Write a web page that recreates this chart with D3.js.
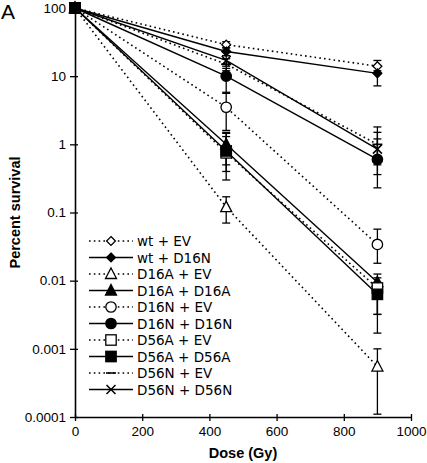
<!DOCTYPE html>
<html><head><meta charset="utf-8">
<script src="https://cdn.jsdelivr.net/npm/d3@7"></script>
<style>body{margin:0;background:#fff}svg{display:block}</style>
</head><body>
<script>
// ---- data ----
const doses = [0, 450, 900];
const seriesNames = ["wt + EV","wt + D16N","D16A + EV","D16A + D16A","D16N + EV","D16N + D16N","D56A + EV","D56A + D56A","D56N + EV","D56N + D56N"];
const seriesMarkers = ["diamond","diamond","triangle","triangle","circle","circle","square","square","dash","cross"];
const seriesFilled = [false,true,false,true,false,true,false,true,false,false];
const seriesDotted = [true,false,true,false,true,false,true,false,true,false];
const wtEV      = [100, 29, 14];
const wtD16N    = [100, 23, 11];
const d16aEV    = [100, 0.12, 0.00055];
const d16aD16A  = [100, 1.0, 0.0095];
const d16nEV    = [100, 3.5, 0.034];
const d16nD16N  = [100, 10, 0.6];
const d56aEV    = [100, 0.75, 0.0078];
const d56aD56A  = [100, 0.8, 0.0063];
const d56nEV    = [100, 15, 1.0];
const d56nD56N  = [100, 17, 0.85];
const seriesValues = [wtEV,wtD16N,d16aEV,d16aD16A,d16nEV,d16nD16N,d56aEV,d56aD56A,d56nEV,d56nD56N];
// error bar bounds (low, high) per series
const errLow  = [[100,26,12],[100,20,7.2],[100,0.07,0.00011],[100,0.5,0.0032],[100,1.6,0.018],[100,5.8,0.23],[100,0.4,0.0032],[100,0.3,0.0017],[100,12,0.5],[100,14,0.36]];
const errHigh = [[100,32,17],[100,26,14],[100,0.17,0.001],[100,1.5,0.0125],[100,5.6,0.057],[100,13,1.2],[100,1.3,0.011],[100,1.45,0.0095],[100,18,1.5],[100,20,1.8]];
const xTicks = [0,200,400,600,800,1000];
const yTicks = [100,10,1,0.1,0.01,0.001,0.0001];
const yTickLabels = ["100","10","1","0.1","0.01","0.001","0.0001"];

// ---- drawing ----
const W = 427, H = 463;
const svg = d3.select("body").append("svg").attr("width", W).attr("height", H);
const x = d3.scaleLinear().domain([0,1000]).range([75,411]);
const y = d3.scaleLog().domain([0.0001,100]).range([417,8]);

// axes
const xAxis = d3.axisBottom(x).tickValues(xTicks).tickSize(0).tickPadding(9).tickFormat(d3.format("d"));
const gx = svg.append("g").attr("transform", `translate(0,${y(0.0001)})`).call(xAxis);
gx.select(".domain").attr("stroke","#000").attr("stroke-width",1.6);
gx.selectAll(".tick line").remove();
gx.selectAll(".tick").append("line").attr("y1",-3).attr("y2",4).attr("stroke","#000").attr("stroke-width",1.3);
gx.selectAll("text").attr("font-family","Liberation Sans, Arial, sans-serif").attr("font-size",13.5).attr("fill","#000");

const yAxis = d3.axisLeft(y).tickValues(yTicks).tickSize(0).tickPadding(9).tickFormat((d,i)=>yTickLabels[i]);
const gy = svg.append("g").attr("transform", `translate(${x(0)},0)`).call(yAxis);
gy.select(".domain").attr("stroke","#000").attr("stroke-width",1.6);
gy.selectAll(".tick line").remove();
gy.selectAll(".tick").append("line").attr("x1",-5).attr("x2",3).attr("stroke","#000").attr("stroke-width",1.3);
gy.selectAll("text").attr("font-family","Liberation Sans, Arial, sans-serif").attr("font-size",13.5).attr("fill","#000");

// titles
svg.append("text").attr("x",243).attr("y",458).attr("text-anchor","middle")
  .attr("font-family","Liberation Sans, Arial, sans-serif").attr("font-weight","bold").attr("font-size",14.5).text("Dose (Gy)");
svg.append("text").attr("transform",`translate(20,${(y(100)+y(0.0001))/2}) rotate(-90)`).attr("text-anchor","middle")
  .attr("font-family","Liberation Sans, Arial, sans-serif").attr("font-weight","bold").attr("font-size",14.5).text("Percent survival");
svg.append("text").attr("x",1).attr("y",19).attr("font-family","Liberation Sans, Arial, sans-serif").attr("font-size",21).text("A");

// marker drawing
function drawMarker(g, type, filled, cx, cy) {
  const fill = filled ? "#000" : "#fff";
  const sw = 1.3;
  if (type === "circle") {
    g.append("circle").attr("cx",cx).attr("cy",cy).attr("r",5.2).attr("fill",fill).attr("stroke","#000").attr("stroke-width",sw);
  } else if (type === "square") {
    g.append("rect").attr("x",cx-5.2).attr("y",cy-5.2).attr("width",10.4).attr("height",10.4).attr("fill",fill).attr("stroke","#000").attr("stroke-width",sw);
  } else if (type === "diamond") {
    g.append("path").attr("d",d3.symbol(d3.symbolDiamond2, 50)()).attr("transform",`translate(${cx},${cy})`).attr("fill",fill).attr("stroke","#000").attr("stroke-width",sw);
  } else if (type === "triangle") {
    g.append("path").attr("d",`M${cx},${cy-6}L${cx+5.5},${cy+4.5}L${cx-5.5},${cy+4.5}Z`).attr("fill",fill).attr("stroke","#000").attr("stroke-width",sw);
  } else if (type === "cross") {
    g.append("path").attr("d",`M${cx-4.5},${cy-4.5}L${cx+4.5},${cy+4.5}M${cx-4.5},${cy+4.5}L${cx+4.5},${cy-4.5}`).attr("stroke","#000").attr("stroke-width",1.5);
  } else if (type === "dash") {
    g.append("line").attr("x1",cx-5).attr("x2",cx+5).attr("y1",cy).attr("y2",cy).attr("stroke","#000").attr("stroke-width",1.6);
  }
}

const line = d3.line().x((d,i)=>x(doses[i])).y(d=>y(d));
const gLines = svg.append("g");
const gErr = svg.append("g");
const gMarks = svg.append("g");

seriesValues.forEach((vals, s) => {
  gLines.append("path").attr("d", line(vals)).attr("fill","none").attr("stroke","#000")
    .attr("stroke-width", seriesDotted[s] ? 1.6 : 1.4)
    .attr("stroke-dasharray", seriesDotted[s] ? "1.6,3.2" : null);
  doses.forEach((dz, i) => {
    if (dz === 0) return;
    const cx = x(dz);
    const lo = y(errLow[s][i]), hi = y(errHigh[s][i]);
    gErr.append("line").attr("x1",cx).attr("x2",cx).attr("y1",lo).attr("y2",hi).attr("stroke","#000").attr("stroke-width",1.3);
    gErr.append("line").attr("x1",cx-4).attr("x2",cx+4).attr("y1",lo).attr("y2",lo).attr("stroke","#000").attr("stroke-width",1.3);
    gErr.append("line").attr("x1",cx-4).attr("x2",cx+4).attr("y1",hi).attr("y2",hi).attr("stroke","#000").attr("stroke-width",1.3);
  });
});
// markers drawn in order (later on top); draw square filled at zero last
seriesValues.forEach((vals, s) => {
  vals.forEach((v, i) => drawMarker(gMarks, seriesMarkers[s], seriesFilled[s], x(doses[i]), y(v)));
});
drawMarker(gMarks, "square", true, x(0), y(100));

// legend
const lg = svg.append("g");
seriesNames.forEach((name, s) => {
  const ly = 241 + s * 16.5;
  lg.append("line").attr("x1",89).attr("x2",133).attr("y1",ly).attr("y2",ly).attr("stroke","#000")
    .attr("stroke-width", seriesDotted[s] ? 1.6 : 1.4)
    .attr("stroke-dasharray", seriesDotted[s] ? "1.6,3.2" : null);
  drawMarker(lg, seriesMarkers[s], seriesFilled[s], 111, ly);
  lg.append("text").attr("x",137).attr("y",ly+5).attr("font-family","DejaVu Sans, Verdana, sans-serif")
    .attr("font-size",13.5).attr("fill","#000").text(name);
});
</script>
</body></html>
